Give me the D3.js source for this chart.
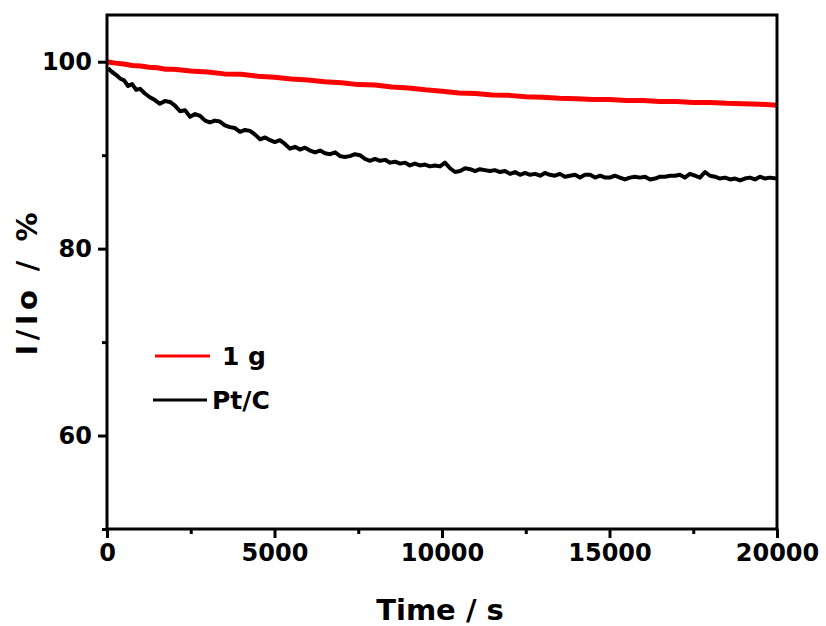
<!DOCTYPE html>
<html><head><meta charset="utf-8">
<script src="https://cdn.jsdelivr.net/npm/d3@7"></script>
<style>body{margin:0;background:#fff}svg{display:block}</style>
</head><body>
<svg id="c" width="826" height="626"></svg>
<script>
const xTicksMajor = [0, 5000, 10000, 15000, 20000];
const xTicksMinor = [2500, 7500, 12500, 17500];
const yTicksMajor = [60, 80, 100];
const yTicksMinor = [50, 70, 90];
const seriesNames = ["1 g", "Pt/C"];
const redTime = [0,250,500,750,1000,1250,1500,1750,2000,2500,3000,3500,4000,4500,5000,5500,6000,6500,7000,7500,8000,8500,9000,9500,10000,10500,11000,11500,12000,12500,13000,13500,14000,14500,15000,15500,16000,16500,17000,17500,18000,18500,19000,19500,20000];
const redValue = [100.0,99.85,99.75,99.6,99.55,99.4,99.35,99.2,99.2,99.0,98.9,98.7,98.65,98.45,98.35,98.15,98.05,97.85,97.75,97.55,97.5,97.3,97.2,97.0,96.85,96.65,96.6,96.45,96.4,96.25,96.2,96.1,96.05,95.95,95.95,95.85,95.85,95.75,95.75,95.65,95.65,95.55,95.5,95.45,95.35];
const blackTime = [30,150,270,390,510,630,750,870,990,1130,1280,1430,1580,1730,1880,2030,2180,2330,2480,2630,2780,2930,3070,3220,3370,3520,3670,3820,3970,4120,4270,4420,4570,4720,4870,5010,5160,5310,5460,5610,5760,5910,6060,6210,6360,6510,6660,6810,6960,7100,7250,7400,7550,7700,7850,8000,8150,8300,8450,8600,8750,8900,9040,9190,9340,9490,9640,9790,9940,10090,10240,10390,10540,10690,10840,10990,11130,11280,11430,11580,11730,11880,12030,12180,12330,12480,12630,12780,12930,13070,13220,13370,13520,13670,13820,13970,14120,14270,14420,14570,14720,14870,15010,15160,15310,15460,15610,15760,15910,16060,16210,16360,16510,16660,16810,16960,17100,17250,17400,17550,17700,17850,18000,18150,18300,18450,18600,18750,18900,19040,19190,19340,19490,19640,19790,19970];
const blackValue = [99.3,98.9,98.6,98.2,98.0,97.4,97.6,97.0,97.1,96.6,96.2,95.9,95.5,95.8,95.7,95.3,94.7,94.8,94.1,94.4,94.2,93.7,93.5,93.7,93.6,93.2,93.0,92.9,92.5,92.7,92.6,92.2,91.7,91.9,91.6,91.4,91.6,91.2,90.7,90.9,90.6,90.8,90.5,90.3,90.5,90.2,90.1,90.3,89.9,89.8,89.9,90.1,90.0,89.6,89.4,89.6,89.4,89.5,89.2,89.3,89.1,89.2,88.9,89.1,88.9,89.0,88.8,88.9,88.8,89.2,88.6,88.2,88.3,88.6,88.5,88.3,88.5,88.4,88.3,88.4,88.2,88.3,88.0,88.2,87.9,88.1,87.9,88.0,87.8,88.1,87.9,87.8,88.0,87.7,87.8,87.9,87.6,87.9,87.9,87.6,87.8,87.6,87.6,87.8,87.6,87.4,87.6,87.7,87.6,87.7,87.4,87.5,87.7,87.7,87.8,87.8,87.9,87.6,88.0,87.8,87.6,88.2,87.8,87.7,87.5,87.6,87.4,87.5,87.3,87.5,87.6,87.4,87.7,87.5,87.6,87.5];

const FONT = "'DejaVu Sans', Verdana, sans-serif";
const svg = d3.select("#c");
const L = 107, R = 777, T = 15, B = 529;
const x = d3.scaleLinear().domain([0, 20000]).range([L, R]);
const y = d3.scaleLinear().domain([50, 105]).range([B, T]);

const line = d3.line().x(d => x(d[0])).y(d => y(d[1]));
const red = redTime.map((t, i) => [t, redValue[i]]);
const black = blackTime.map((t, i) => [t, blackValue[i]]);

const plot = svg.append("g");
plot.append("path").datum(red).attr("d", line).attr("fill", "none").attr("stroke", "#ff0000").attr("stroke-width", 5).attr("stroke-linejoin", "round");
plot.append("path").datum(black).attr("d", line).attr("fill", "none").attr("stroke", "#000").attr("stroke-width", 4).attr("stroke-linejoin", "round");

// frame
svg.append("rect").attr("x", L).attr("y", T).attr("width", R - L).attr("height", B - T)
  .attr("fill", "none").attr("stroke", "#000").attr("stroke-width", 3);

svg.append("g").attr("transform", `translate(0,${B})`)
  .call(d3.axisBottom(x).tickValues(xTicksMajor).tickSize(9).tickPadding(6).tickFormat(d3.format("d")));
svg.append("g").attr("transform", `translate(0,${B})`)
  .call(d3.axisBottom(x).tickValues(xTicksMinor).tickSize(5).tickFormat(""));
svg.append("g").attr("transform", `translate(${L},0)`)
  .call(d3.axisLeft(y).tickValues(yTicksMajor).tickSize(9).tickPadding(6));
svg.append("g").attr("transform", `translate(${L},0)`)
  .call(d3.axisLeft(y).tickValues(yTicksMinor).tickSize(5).tickFormat(""));
svg.selectAll(".domain").remove();
svg.selectAll(".tick line").attr("stroke", "#000").attr("stroke-width", 3);
svg.selectAll(".tick text").attr("font-family", FONT).attr("font-weight", "bold").attr("font-size", 24).attr("fill", "#000");

svg.append("text").attr("x", (L + R) / 2 - 2).attr("y", 620).attr("text-anchor", "middle")
  .attr("font-family", FONT).attr("font-weight", "bold").attr("font-size", 29).text("Time / s");
svg.append("text").attr("transform", "translate(37,284) rotate(-90)").attr("text-anchor", "middle")
  .attr("font-family", FONT).attr("font-weight", "bold").attr("font-size", 29)
  .attr("textLength", 143).attr("lengthAdjust", "spacing").text("I/Io / %");

const legend = [
  {name: seriesNames[0], color: "#ff0000", x1: 155, x2: 210, y: 356, tx: 222},
  {name: seriesNames[1], color: "#000", x1: 153, x2: 207, y: 400, tx: 212}
];
legend.forEach(l => {
  svg.append("line").attr("x1", l.x1).attr("x2", l.x2).attr("y1", l.y).attr("y2", l.y)
    .attr("stroke", l.color).attr("stroke-width", 3);
  svg.append("text").attr("x", l.tx).attr("y", l.y + 9).attr("font-family", FONT)
    .attr("font-weight", "bold").attr("font-size", 25).text(l.name);
});
</script>
</body></html>
